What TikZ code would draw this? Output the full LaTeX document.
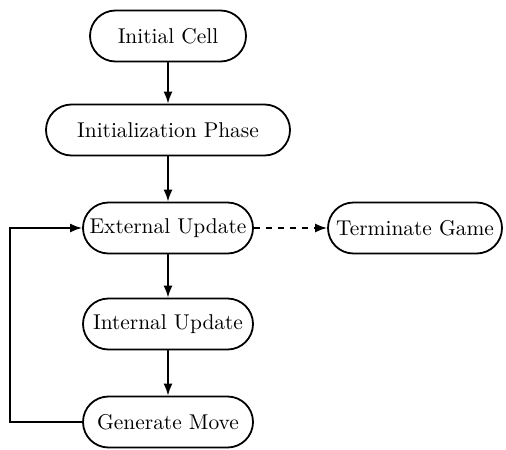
\documentclass[tikz,border=0pt]{standalone}
\usetikzlibrary{arrows.meta}

\begin{document}
\begin{tikzpicture}[x=0.5pt, y=-0.5pt,
	stage/.style={draw, line width=0.9pt, rounded corners=12.75pt, minimum height=25.5pt, inner sep=0pt, font=\fontsize{10.7}{13}\selectfont},
	flow/.style={line width=0.9pt, -{Latex[length=6pt, width=4.5pt]}}]

\def\cx{168}
\def\lx{10}

\path [use as bounding box] (0,0) rectangle (506,449);

% STAGES
\node [stage, minimum width=78pt] (cell) at (\cx,36) {Initial Cell};
\node [stage, minimum width=122pt] (phase) at (\cx,130) {Initialization Phase};
\node [stage, minimum width=85pt] (ext) at (\cx,228) {External Update};
\node [stage, minimum width=87pt] (term) at (415,228) {Terminate Game};
\node [stage, minimum width=85pt] (intl) at (\cx,324) {Internal Update};
\node [stage, minimum width=85pt] (move) at (\cx,422) {Generate Move};

% FLOW
\draw [flow] (cell) -- (phase);
\draw [flow] (phase) -- (ext);
\draw [flow] (ext) -- (intl);
\draw [flow] (intl) -- (move);
\draw [flow, dashed] (ext) -- (term);

% LOOP
\draw [flow] (move.west) -- (\lx,422) |- (ext.west);

\end{tikzpicture}
\end{document}
